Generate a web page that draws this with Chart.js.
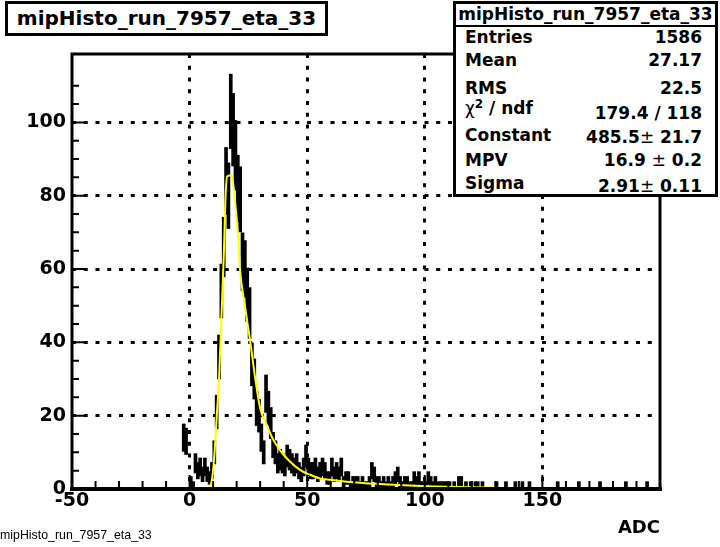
<!DOCTYPE html>
<html>
<head>
<meta charset="utf-8">
<title>mipHisto_run_7957_eta_33</title>
<style>
  body { margin: 0; background: #fff; }
  #wrap { position: relative; width: 720px; height: 547px; overflow: hidden;
          font-family: "DejaVu Sans", "Liberation Sans", Arial, sans-serif; color: #000; }
  #chart { position: absolute; left: 0; top: 0; }
  .box { position: absolute; background: #fff; border: 3px solid #000; box-sizing: border-box; }
  #title { left: 5px; top: 1px; width: 323px; height: 35px; font-weight: bold; font-size: 20px;
           line-height: 29px; text-align: center; white-space: nowrap; }
  #stats { left: 453px; top: 1px; width: 265px; height: 196px; font-weight: bold; }
  #stats .head { position: absolute; left: 0; top: 0; width: 259px; height: 21px; border-bottom: 2px solid #000;
                 text-align: center; line-height: 21px; font-size: 17px; white-space: nowrap; }
  #stats .lab, #stats .val { position: absolute; font-size: 17px; line-height: 20px; white-space: nowrap; }
  #stats .lab { left: 9px; }
  #stats .val { right: 13px; text-align: right; }
  #stats .sym { font-weight: normal; }
  #stats sup { font-size: 12px; line-height: 0; vertical-align: 6px; }
  #foot { position: absolute; left: 0; top: 527px; font-family: "Liberation Sans", Arial, sans-serif;
          font-size: 13px; line-height: 16px; white-space: nowrap;
          transform: scaleX(0.95); transform-origin: 0 0; }
</style>
</head>
<body>
<div id="wrap">
  <canvas id="chart" width="720" height="547"></canvas>
  <div id="title" class="box">mipHisto_run_7957_eta_33</div>
  <div id="stats" class="box">
    <div class="head">mipHisto_run_7957_eta_33</div>
    <div class="lab" style="top:23px">Entries</div><div class="val" style="top:23px">1586</div>
    <div class="lab" style="top:46px">Mean</div><div class="val" style="top:46px">27.17</div>
    <div class="lab" style="top:74px">RMS</div><div class="val" style="top:74px">22.5</div>
    <div class="lab" style="top:94px"><span class="sym">χ</span><sup>2</sup> / ndf</div><div class="val" style="top:99px">179.4 / 118</div>
    <div class="lab" style="top:121px">Constant</div><div class="val" style="top:123px">485.5<span class="sym">±</span> 21.7</div>
    <div class="lab" style="top:146px">MPV</div><div class="val" style="top:146px">16.9 <span class="sym">±</span> 0.2</div>
    <div class="lab" style="top:169px">Sigma</div><div class="val" style="top:172px">2.91<span class="sym">±</span> 0.11</div>
  </div>
  <div id="foot">mipHisto_run_7957_eta_33</div>
</div>

<script src="https://cdn.jsdelivr.net/npm/chart.js"></script>

<script>
    // histogram: lower bin edge (bin width 1 ADC) and bin content, only non-empty bins
    const binLow = [
        -3, -2, 0, 1, 2, 3, 4, 5, 6, 7, 8, 9,
        10, 11, 12, 13, 14, 15, 16, 17, 18, 19, 20, 21, 22, 23, 24, 25, 26, 27, 28, 29,
        30, 31, 32, 33, 34, 35, 36, 37, 38, 39, 40, 41, 42, 43, 44, 45, 46, 47, 48, 49,
        50, 51, 52, 53, 54, 55, 56, 57, 58, 59, 60, 61, 62, 63, 64, 65, 66, 67, 68, 69,
        70, 71, 72, 73, 74, 75, 76, 77, 78, 79, 80, 81, 82, 83, 84, 85, 86, 87, 88, 89,
        90, 91, 92, 93, 94, 95, 96, 97, 98, 99, 100, 101, 102, 103, 104, 105, 106, 107, 108, 109,
        110, 112, 114, 115, 117, 119, 121, 122, 124, 130, 134, 138, 141, 144, 156, 165, 174, 185, 194
    ];
    const binCount = [
        14, 13, 2, 1, 7, 5, 6, 4, 6, 4, 3, 5,
        10, 21, 36, 54, 66, 84, 80, 103, 98, 91, 82, 79, 62, 60, 53, 48, 34, 30, 22, 20,
        14, 10, 26, 22, 18, 12, 10, 7, 8, 7, 6, 9, 8, 7, 6, 7, 5, 4, 6, 9,
        6, 5, 5, 6, 4, 5, 6, 5, 3, 3, 6, 4, 5, 4, 6, 2, 3, 3, 1, 2,
        2, 2, 1, 2, 1, 1, 2, 5, 4, 2, 2, 1, 2, 1, 2, 1, 2, 3, 4, 2,
        1, 2, 2, 1, 1, 3, 2, 3, 1, 1, 1, 3, 2, 1, 2, 1, 1, 1, 1, 1,
        1, 1, 2, 2, 1, 1, 1, 1, 1, 1, 1, 1, 1, 1, 1, 1, 1, 1, 1
    ];

    // landau fit curve
    const fitX = [8.3, 9.5, 10.5, 11.5, 12.5, 13.6, 14.6, 15.3, 16.0, 17.9, 19.3, 20.7, 21.4, 23.5, 25.7,
                  27.8, 30, 32.8, 35.6, 38.4, 42, 46.9, 51.2, 55.4, 59.7, 66.8, 79.5, 98, 119, 129];
    const fitY = [0, 2.5, 9, 19.5, 30, 48, 65, 80, 85.3, 85.6, 78.7, 68, 60, 50, 40.6,
                  30.6, 22, 17.5, 13.4, 10.6, 7.9, 5.2, 3.9, 2.9, 2.5, 2.0, 1.4, 0.8, 0.5, 0.4];

    const xRange = [-50, 200];
    const yRange = [0, 118.65];
    const xLabelTicks = [-50, 0, 50, 100, 150];
    const yLabelTicks = [0, 20, 40, 60, 80, 100];

    const fontFamily = '"DejaVu Sans", "Liberation Sans", Arial, sans-serif';

    const errorBars = binLow.map((lo, i) => {
        const n = binCount[i];
        const e = Math.sqrt(n);
        return {x: lo + 0.5, y: [n - e, n + e]};
    });

    // frame and inner ticks like ROOT draws them
    const rootFrame = {
        id: 'rootFrame',
        afterDatasetsDraw(chart) {
            const {ctx, chartArea: a, scales: {x, y}} = chart;
            ctx.save();
            ctx.strokeStyle = '#000';
            ctx.lineWidth = 2;
            ctx.beginPath();
            for (const t of x.ticks) {
                if (t.value % 10 !== 0) continue;
                const px = x.getPixelForValue(t.value);
                const len = t.value % 50 === 0 ? 14 : 8;
                ctx.moveTo(px, a.bottom);
                ctx.lineTo(px, a.bottom - len);
            }
            for (const t of y.ticks) {
                if (t.value % 5 !== 0) continue;
                const py = y.getPixelForValue(t.value);
                const len = t.value % 20 === 0 ? 14 : 7;
                ctx.moveTo(a.left, py);
                ctx.lineTo(a.left + len, py);
            }
            ctx.stroke();
            ctx.lineWidth = 3;
            ctx.strokeRect(a.left, a.top, a.right - a.left, a.bottom - a.top);
            ctx.lineWidth = 4;
            ctx.beginPath();
            ctx.moveTo(a.left - 2, a.bottom);
            ctx.lineTo(a.right + 2, a.bottom);
            ctx.stroke();
            ctx.restore();
        }
    };

    const ctx = document.getElementById('chart');
    new Chart(ctx, {
        type: 'bar',
        data: {
            datasets: [
                {
                    type: 'line',
                    data: fitX.map((v, i) => ({x: v, y: fitY[i]})),
                    borderColor: '#ffff00',
                    borderWidth: 2,
                    pointRadius: 0,
                    cubicInterpolationMode: 'monotone',
                    order: 0
                },
                {
                    type: 'bar',
                    data: errorBars,
                    backgroundColor: '#000',
                    barThickness: 3,
                    order: 1
                }
            ]
        },
        options: {
            responsive: false,
            animation: false,
            devicePixelRatio: 1,
            layout: {padding: {left: 0, right: 60, top: 54, bottom: 0}},
            plugins: {legend: {display: false}, tooltip: {enabled: false}},
            scales: {
                x: {
                    type: 'linear',
                    min: xRange[0],
                    max: xRange[1],
                    offset: false,
                    afterFit(s) { s.height = 58; },
                    ticks: {
                        stepSize: 10,
                        autoSkip: false,
                        maxRotation: 0,
                        padding: 1,
                        color: '#000',
                        font: {family: fontFamily, size: 19, weight: 'bold'},
                        callback: v => xLabelTicks.includes(v) ? v : ''
                    },
                    grid: {
                        offset: false,
                        drawTicks: false,
                        lineWidth: 3,
                        color: c => (c.tick && c.tick.value % 50 === 0 && c.tick.value > -50 && c.tick.value < 200) ? '#000' : 'rgba(0,0,0,0)'
                    },
                    border: {display: false, dash: [4, 7.75]},
                    title: {
                        display: true,
                        text: 'ADC',
                        align: 'end',
                        color: '#000',
                        font: {family: fontFamily, size: 18, weight: 'bold'},
                        padding: {top: 0, bottom: 8}
                    }
                },
                y: {
                    type: 'linear',
                    min: yRange[0],
                    max: yRange[1],
                    afterFit(s) { s.width = 72; },
                    ticks: {
                        stepSize: 5,
                        autoSkip: false,
                        padding: 6,
                        color: '#000',
                        font: {family: fontFamily, size: 19, weight: 'bold'},
                        callback: v => yLabelTicks.includes(v) ? v : ''
                    },
                    grid: {
                        offset: false,
                        drawTicks: false,
                        lineWidth: 3,
                        color: c => (c.tick && c.tick.value % 20 === 0 && c.tick.value > 0 && c.tick.value <= 100) ? '#000' : 'rgba(0,0,0,0)'
                    },
                    border: {display: false, dash: [4, 7.75]}
                }
            }
        },
        plugins: [rootFrame]
    });
</script>
</body>
</html>
